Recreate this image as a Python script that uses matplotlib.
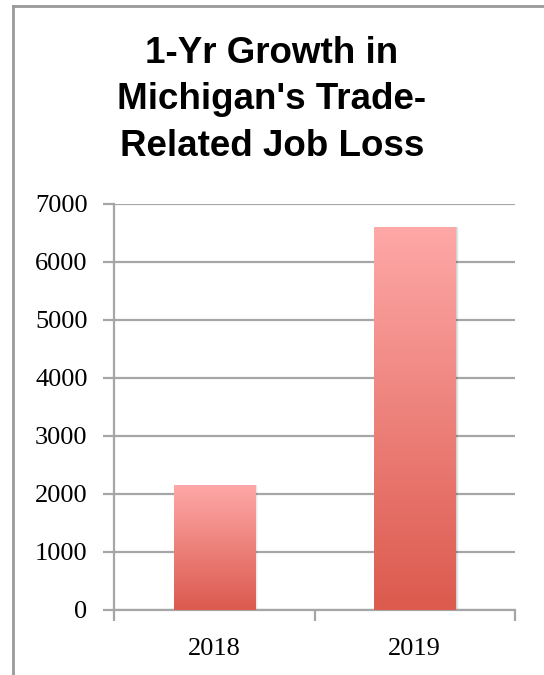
import matplotlib
matplotlib.use("Agg")
import matplotlib.pyplot as plt
from matplotlib.lines import Line2D
from matplotlib.colors import LinearSegmentedColormap
import numpy as np

# Data
years = ["2018", "2019"]
job_loss = [2155, 6600]
y_ticks = [0, 1000, 2000, 3000, 4000, 5000, 6000, 7000]

grid_gray = "#a6a6a6"
bar_cmap = LinearSegmentedColormap.from_list("bar", ["#dc5a4e", "#fea8a7"])

fig = plt.figure(figsize=(5.44, 6.75), dpi=100)
ax = fig.add_axes([114 / 544, 1 - 610 / 675, (515 - 114) / 544, (610 - 204) / 675])

x = np.arange(len(years))
bars = ax.bar(x, job_loss, width=0.405, color="none", edgecolor="none", zorder=3)

# gradient fill per bar (light top, dark bottom)
grad = np.linspace(0, 1, 256).reshape(-1, 1)
for b in bars:
    x0, w, h = b.get_x(), b.get_width(), b.get_height()
    # soft shadow
    for i, a in enumerate([0.10, 0.06, 0.03]):
        ax.bar(x0 + w / 2 + 0.006 * (i + 1), h, width=w, color="black", alpha=a,
               zorder=2, edgecolor="none")
    im = ax.imshow(grad, cmap=bar_cmap, aspect="auto", origin="lower",
                   extent=[x0, x0 + w, 0, h], zorder=3)
    im.set_clip_path(b)

tick_font = dict(family="Liberation Serif", fontsize=19)

ax.set_xlim(-0.5, 1.5)
ax.set_ylim(0, 7000)
ax.set_yticks(y_ticks)
ax.set_yticklabels([str(v) for v in y_ticks], **tick_font)
ax.yaxis.grid(True, color=grid_gray, linewidth=1.6, zorder=1)
ax.set_axisbelow(True)

ax.set_xticks([-0.5, 0.5, 1.5])
ax.set_xticklabels([])
ax.set_xticks(x, minor=True)
ax.set_xticklabels(years, minor=True, **tick_font)
ax.tick_params(axis="x", which="minor", length=0, pad=20)
ax.tick_params(axis="x", which="major", length=8, width=1.6, color=grid_gray)
ax.tick_params(axis="y", length=8, width=1.6, color=grid_gray, pad=11)

for side in ["top", "right"]:
    ax.spines[side].set_visible(False)
for side in ["left", "bottom"]:
    ax.spines[side].set_color(grid_gray)
    ax.spines[side].set_linewidth(1.6)

# title
fig.text(0.5, 1 - 36 / 675, "1-Yr Growth in\nMichigan's Trade-\nRelated Job Loss",
         ha="center", va="top", fontsize=26.5, fontweight="bold",
         family="Liberation Sans", linespacing=1.42)

# frame around the chart (top and left edges only)
fig.add_artist(Line2D([12.5 / 544, 1], [1 - 5.5 / 675, 1 - 5.5 / 675],
                      color="#999999", linewidth=2, transform=fig.transFigure))
fig.add_artist(Line2D([12.5 / 544, 12.5 / 544], [1 - 5.5 / 675, 0],
                      color="#999999", linewidth=2, transform=fig.transFigure))

fig.savefig("out.png", dpi=100)
